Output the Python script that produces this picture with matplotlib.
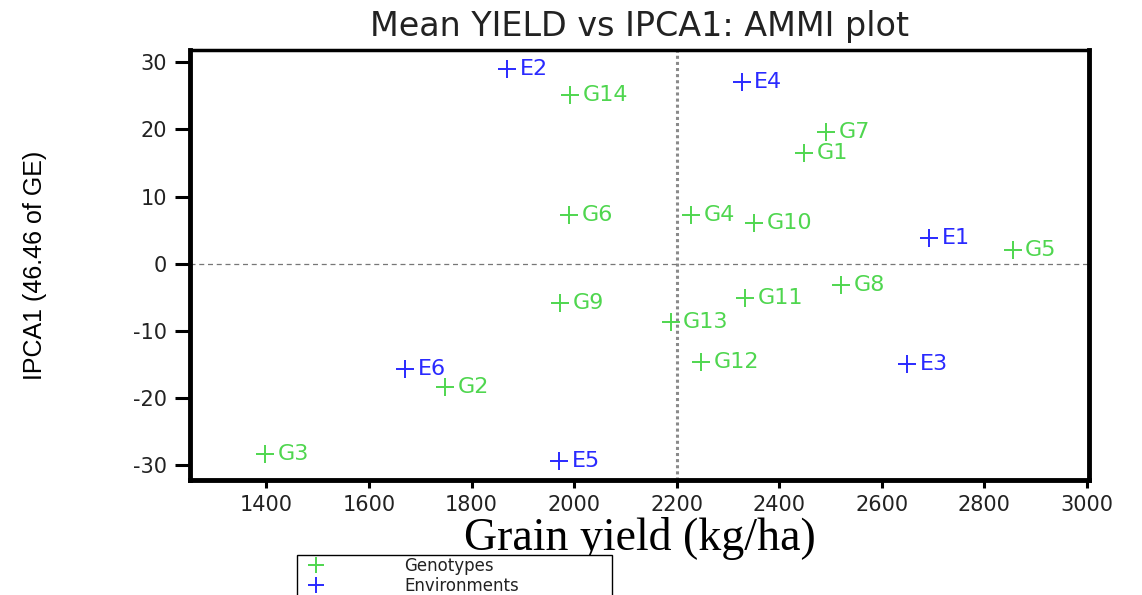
import matplotlib.pyplot as plt
from matplotlib.lines import Line2D

plt.rcParams["axes.unicode_minus"] = False

# Mean yield (kg/ha) and IPCA1 scores
genotypes = ["G1", "G2", "G3", "G4", "G5", "G6", "G7", "G8", "G9", "G10", "G11", "G12", "G13", "G14"]
g_yield = [2448, 1748, 1398, 2228, 2855, 1990, 2492, 2520, 1973, 2351, 2333, 2247, 2188, 1992]
g_ipca1 = [16.4, -18.4, -28.3, 7.3, 2.1, 7.3, 19.6, -3.1, -5.8, 6.0, -5.1, -14.6, -8.6, 25.1]

environments = ["E1", "E2", "E3", "E4", "E5", "E6"]
e_yield = [2693, 1870, 2650, 2327, 1971, 1671]
e_ipca1 = [3.9, 28.9, -14.9, 27.1, -29.3, -15.6]

grand_mean = 2200
xticks = [1400, 1600, 1800, 2000, 2200, 2400, 2600, 2800, 3000]
yticks = [-30, -20, -10, 0, 10, 20, 30]

GREEN = "#4fd64f"
BLUE = "#2a2aff"

fig = plt.figure(figsize=(11.42, 5.95), dpi=100)
ax = fig.add_axes([0.166, 0.193, 0.788, 0.723])

# reference lines: grand mean and zero interaction
ax.axvline(grand_mean, color="#8a8a8a", linestyle=(0, (1, 1)), linewidth=2.2, zorder=1)
ax.axhline(0, color="#777777", linestyle=(0, (4, 3)), linewidth=0.9, zorder=1)

ax.plot(g_yield, g_ipca1, "+", color=GREEN, markersize=13, markeredgewidth=1.4, zorder=3)
ax.plot(e_yield, e_ipca1, "+", color=BLUE, markersize=13, markeredgewidth=1.4, zorder=3)

for name, x, y in zip(genotypes, g_yield, g_ipca1):
    ax.annotate(name, (x, y), xytext=(9, 0), textcoords="offset points",
                ha="left", va="center", color=GREEN, fontsize=16)
for name, x, y in zip(environments, e_yield, e_ipca1):
    ax.annotate(name, (x, y), xytext=(9, 0), textcoords="offset points",
                ha="left", va="center", color=BLUE, fontsize=16)

ax.set_xlim(1250, 3005)
ax.set_ylim(-32.2, 31.8)
ax.set_xticks(xticks)
ax.set_yticks(yticks)

for side in ["left", "bottom", "right"]:
    ax.spines[side].set_linewidth(3.5)
ax.spines["top"].set_linewidth(2.5)

ax.tick_params(axis="y", direction="out", length=11, width=2.2, labelsize=15, pad=5, colors="black")
ax.tick_params(axis="x", direction="out", length=6, width=2.2, labelsize=15, pad=5, colors="black")
for lbl in ax.get_xticklabels() + ax.get_yticklabels():
    lbl.set_color("#222222")

ax.set_title("Mean YIELD vs IPCA1: AMMI plot", fontsize=24, color="#222222", pad=10)
ax.set_xlabel("Grain yield (kg/ha)", fontsize=33, family="Liberation Serif", labelpad=1)
ax.set_ylabel("IPCA1 (46.46 of GE)", fontsize=18, family="Liberation Sans", labelpad=62)

handles = [Line2D([], [], marker="+", linestyle="none", color=GREEN, markersize=12, markeredgewidth=1.4),
           Line2D([], [], marker="+", linestyle="none", color=BLUE, markersize=12, markeredgewidth=1.4)]
fig.legend(handles, ["Genotypes", "Environments"], loc="upper left",
           bbox_to_anchor=(0.26, 0.058, 0.276, 0.01), mode="expand", fontsize=12,
           frameon=True, fancybox=False, edgecolor="black", framealpha=1,
           handlelength=2.0, handletextpad=4.3, labelspacing=0.1, borderpad=0.15,
           borderaxespad=0, labelcolor="#222222")

fig.savefig("out.png", dpi=100)
